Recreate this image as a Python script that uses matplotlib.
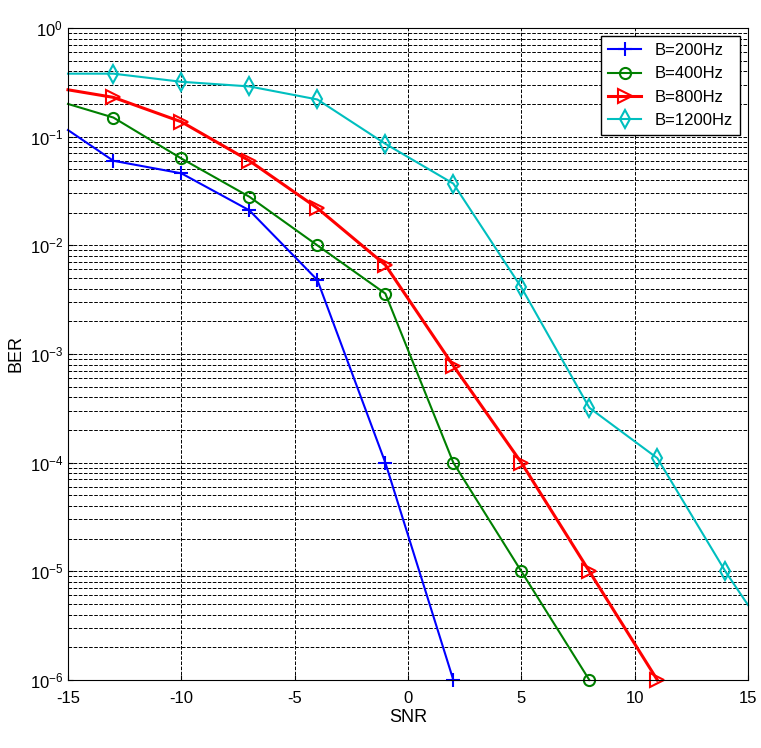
import matplotlib
matplotlib.use("Agg")
import matplotlib.pyplot as plt
plt.rcParams['font.family'] = ['Liberation Sans', 'DejaVu Sans']
plt.rcParams['axes.unicode_minus'] = False

snr_b = [-15, -13, -10, -7, -4, -1, 2]
ber_b = [0.115, 0.06, 0.046, 0.021, 0.0048, 1e-4, 1e-6]
snr_g = [-15, -13, -10, -7, -4, -1, 2, 5, 8]
ber_g = [0.2, 0.15, 0.063, 0.028, 0.01, 0.0036, 1e-4, 1e-5, 1e-6]
snr_r = [-15, -13, -10, -7, -4, -1, 2, 5, 8, 11]
ber_r = [0.27, 0.23, 0.137, 0.06, 0.022, 0.0066, 7.8e-4, 1e-4, 1e-5, 1e-6]
snr_c = [-15, -13, -10, -7, -4, -1, 2, 5, 8, 11, 14, 15]
ber_c = [0.38, 0.38, 0.32, 0.29, 0.22, 0.086, 0.037, 0.0041, 3.2e-4, 1.1e-4, 1e-5, 4.9e-6]

fig = plt.figure(figsize=(7.61, 7.48), dpi=100)
ax = fig.add_axes([68/761, 1-680/748, 680/761, 652/748])
kw = dict(clip_on=False, mew=1.5)
ax.semilogy(snr_b, ber_b, color='#0000ff', marker='+', ms=10, lw=1.5, markevery=slice(1, None), label='B=200Hz', **kw)
ax.semilogy(snr_g, ber_g, color='#008000', marker='o', ms=8, mfc='none', lw=1.5, markevery=slice(1, None), label='B=400Hz', **kw)
ax.semilogy(snr_r, ber_r, color='#ff0000', marker='>', ms=10, mfc='none', lw=2.2, markevery=slice(1, None), label='B=800Hz', **kw)
ax.semilogy(snr_c, ber_c, color='#00bfbf', marker='d', ms=9, mfc='none', lw=1.5, markevery=slice(1, -1), label='B=1200Hz', **kw)
ax.set_xlim(-15, 15)
ax.set_ylim(1e-6, 1)
ax.set_xticks([-15, -10, -5, 0, 5, 10, 15])
ax.grid(True, which='major', ls='--', color='k', lw=0.7)
ax.grid(True, which='minor', axis='y', ls='--', color='k', lw=0.7)
ax.tick_params(which='both', direction='in', labelsize=12)
ax.tick_params(axis='x', pad=8)
ax.set_xlabel('SNR', fontsize=13, labelpad=2)
ax.set_ylabel('BER', fontsize=13)
leg = ax.legend(loc='upper right', fontsize=12, fancybox=False, edgecolor='k', framealpha=1)
fig.savefig('out.png', dpi=100)
